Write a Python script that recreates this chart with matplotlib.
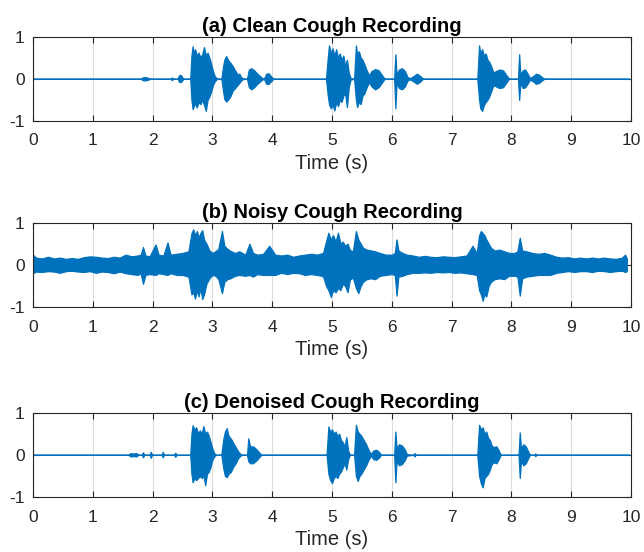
import matplotlib
matplotlib.use("Agg")
from matplotlib import pyplot as plt

plt.rcParams['font.family'] = ['Liberation Sans', 'DejaVu Sans']
plt.rcParams['axes.unicode_minus'] = False

# envelope key points (time in s, upper / lower amplitude)
clean_t = [0, 1.80, 1.83, 1.88, 1.93, 1.96, 2.30, 2.32, 2.35, 2.42, 2.44, 2.47, 2.50, 2.52,
           2.63, 2.65, 2.67, 2.69, 2.71, 2.74, 2.77, 2.80, 2.83, 2.86, 2.89, 2.92, 2.95, 2.98, 3.01, 3.04, 3.08,
           3.15, 3.18, 3.20, 3.23, 3.26, 3.30, 3.34, 3.38, 3.42, 3.45, 3.48, 3.52,
           3.58, 3.61, 3.65, 3.70, 3.75, 3.80, 3.84, 3.87, 3.90, 3.94, 3.98, 4.02,
           4.90, 4.93, 4.95, 4.98, 5.01, 5.04, 5.07, 5.10, 5.13, 5.16, 5.19, 5.22, 5.25, 5.28, 5.31,
           5.37, 5.40, 5.42, 5.45, 5.48, 5.51, 5.54, 5.58, 5.62, 5.66, 5.72, 5.78, 5.84, 5.88,
           6.04, 6.06, 6.08, 6.12, 6.17, 6.22, 6.26, 6.30, 6.36, 6.42, 6.48, 6.52,
           7.43, 7.46, 7.48, 7.51, 7.54, 7.57, 7.60, 7.63, 7.66, 7.70, 7.74, 7.80, 7.86, 7.92, 7.96,
           8.11, 8.13, 8.15, 8.19, 8.23, 8.27, 8.31, 8.36, 8.41, 8.46, 8.51, 8.55, 9.97]
clean_up = [0, 0, .03, .04, .02, 0, 0, .03, 0, 0, .08, .09, .03, 0,
            0, .55, .77, .60, .70, .55, .62, .50, .58, .75, .55, .62, .50, .35, .18, .06, 0,
            0, .30, .45, .54, .45, .38, .30, .20, .10, .12, .04, 0,
            0, .22, .25, .20, .12, .06, .01, .02, .12, .13, .06, 0,
            0, .50, .79, .60, .72, .55, .70, .50, .60, .45, .55, .30, .45, .15, .02,
            0, .79, .60, .65, .50, .45, .35, .20, .08, .18, .23, .20, .08, 0,
            0, .58, .10, .22, .25, .18, .05, .01, .06, .12, .06, 0,
            0, .79, .60, .70, .55, .60, .45, .40, .30, .15, .18, .22, .20, .08, 0,
            0, .58, .10, .20, .22, .12, .02, .06, .12, .10, .04, 0, 0]
clean_lo = [0, 0, -.03, -.04, -.02, 0, 0, -.03, 0, 0, -.07, -.08, -.03, 0,
            0, -.50, -.72, -.65, -.58, -.68, -.55, -.60, -.50, -.62, -.76, -.50, -.42, -.30, -.15, -.06, 0,
            0, -.30, -.48, -.54, -.50, -.42, -.28, -.22, -.15, -.10, -.04, 0,
            0, -.20, -.25, -.20, -.12, -.06, -.01, -.02, -.12, -.12, -.06, 0,
            0, -.40, -.60, -.70, -.62, -.75, -.55, -.65, -.50, -.55, -.40, -.35, -.67, -.20, -.02,
            0, -.50, -.67, -.55, -.60, -.40, -.35, -.20, -.08, -.18, -.25, -.20, -.08, 0,
            0, -.70, -.10, -.22, -.25, -.18, -.05, -.01, -.06, -.12, -.06, 0,
            0, -.50, -.70, -.76, -.62, -.55, -.50, -.42, -.30, -.15, -.18, -.22, -.20, -.08, 0,
            0, -.50, -.10, -.22, -.20, -.12, -.02, -.06, -.12, -.10, -.04, 0, 0]

noisy_t = [0.00, 0.05, 0.15, 0.25, 0.35, 0.45, 0.55, 0.65, 0.75, 0.85, 0.95, 1.05, 1.15, 1.25,
           1.35, 1.45, 1.55, 1.65, 1.75, 1.80, 1.84, 1.88, 1.95, 2.05, 2.10, 2.18, 2.25, 2.30,
           2.40, 2.50, 2.60, 2.65, 2.68, 2.71, 2.74, 2.77, 2.80, 2.83, 2.86, 2.90, 2.95, 3.00,
           3.05, 3.10, 3.16, 3.20, 3.25, 3.30, 3.38, 3.45, 3.55, 3.62, 3.68, 3.75, 3.85, 3.95,
           4.05, 4.15, 4.25, 4.35, 4.45, 4.55, 4.65, 4.75, 4.85, 4.90, 4.94, 4.98, 5.02, 5.06,
           5.10, 5.14, 5.18, 5.22, 5.26, 5.30, 5.35, 5.40, 5.44, 5.48, 5.52, 5.58, 5.65, 5.72,
           5.80, 5.90, 6.00, 6.05, 6.08, 6.11, 6.18, 6.25, 6.35, 6.45, 6.55, 6.65, 6.75, 6.85,
           6.95, 7.05, 7.15, 7.25, 7.35, 7.42, 7.46, 7.49, 7.52, 7.55, 7.58, 7.62, 7.66, 7.72,
           7.80, 7.88, 7.96, 8.05, 8.10, 8.14, 8.18, 8.25, 8.35, 8.45, 8.55, 8.65, 8.75, 8.85,
           8.95, 9.05, 9.15, 9.25, 9.35, 9.45, 9.55, 9.65, 9.75, 9.85, 9.90, 9.93]
noisy_up = [.24, .17, .15, .19, .15, .17, .14, .16, .14, .18, .20, .19, .17, .16,
            .19, .17, .24, .20, .22, .24, .42, .22, .20, .48, .24, .22, .53, .24,
            .26, .28, .32, .75, .84, .70, .80, .65, .75, .82, .60, .50, .34, .28,
            .32, .38, .80, .45, .38, .33, .28, .32, .24, .50, .28, .24, .26, .45,
            .24, .22, .24, .19, .22, .24, .26, .24, .28, .55, .76, .60, .70, .55,
            .76, .50, .55, .45, .50, .35, .32, .80, .60, .50, .40, .36, .34, .32,
            .28, .24, .24, .28, .60, .34, .28, .24, .22, .19, .21, .19, .18, .20,
            .19, .18, .20, .22, .45, .28, .70, .80, .75, .70, .60, .50, .40, .34,
            .36, .32, .28, .28, .32, .64, .34, .32, .28, .26, .28, .24, .19, .17,
            .18, .15, .17, .15, .17, .15, .17, .15, .14, .17, .24, .15]
noisy_lo = [-.20, -.16, -.17, -.15, -.16, -.19, -.15, -.14, -.16, -.17, -.15, -.19, -.16, -.17,
            -.20, -.16, -.20, -.22, -.24, -.20, -.45, -.24, -.22, -.24, -.20, -.22, -.24, -.20,
            -.24, -.24, -.28, -.70, -.65, -.80, -.60, -.75, -.55, -.81, -.70, -.45, -.32, -.24,
            -.26, -.34, -.67, -.40, -.34, -.32, -.26, -.24, -.26, -.24, -.28, -.22, -.24, -.24,
            -.24, -.19, -.22, -.19, -.20, -.24, -.22, -.24, -.27, -.50, -.60, -.76, -.60, -.65,
            -.55, -.60, -.45, -.50, -.65, -.35, -.30, -.55, -.67, -.50, -.40, -.34, -.32, -.34,
            -.26, -.24, -.22, -.24, -.73, -.28, -.26, -.22, -.19, -.19, -.18, -.19, -.17, -.18,
            -.17, -.19, -.18, -.20, -.22, -.24, -.60, -.70, -.85, -.70, -.75, -.50, -.40, -.34,
            -.32, -.34, -.26, -.26, -.28, -.73, -.32, -.28, -.26, -.24, -.24, -.24, -.19, -.17,
            -.15, -.17, -.15, -.15, -.17, -.14, -.15, -.17, -.15, -.14, -.17, -.15]

denoised_t = [0, 1.60, 1.63, 1.68, 1.73, 1.76, 1.82, 1.84, 1.86, 1.95, 1.97, 1.99, 2.15, 2.17, 2.19, 2.36, 2.38, 2.40,
              2.63, 2.65, 2.67, 2.70, 2.73, 2.76, 2.79, 2.82, 2.85, 2.88, 2.91, 2.94, 2.97, 3.00, 3.03, 3.06,
              3.15, 3.18, 3.21, 3.24, 3.27, 3.31, 3.35, 3.39, 3.43, 3.47, 3.50,
              3.58, 3.60, 3.63, 3.68, 3.73, 3.78, 3.82,
              4.91, 4.94, 4.97, 5.00, 5.03, 5.06, 5.09, 5.12, 5.15, 5.18, 5.21, 5.24, 5.27, 5.30,
              5.37, 5.40, 5.43, 5.46, 5.49, 5.53, 5.57, 5.61, 5.65, 5.69, 5.74, 5.79, 5.82,
              6.04, 6.06, 6.08, 6.12, 6.17, 6.22, 6.25, 6.36, 6.38, 6.40,
              7.43, 7.46, 7.49, 7.52, 7.55, 7.58, 7.61, 7.64, 7.67, 7.71, 7.75, 7.79, 7.82,
              8.12, 8.14, 8.16, 8.20, 8.24, 8.28, 8.31, 8.38, 8.40, 8.42, 9.97]
denoised_up = [0, 0, .04, .03, .04, 0, 0, .06, 0, 0, .07, 0, 0, .07, 0, 0, .05, 0,
               0, .50, .70, .60, .65, .50, .58, .50, .68, .50, .55, .45, .30, .15, .04, 0,
               0, .35, .55, .63, .45, .38, .28, .18, .08, .02, 0,
               0, .39, .20, .20, .14, .06, 0,
               0, .67, .55, .60, .50, .55, .45, .50, .35, .30, .20, .42, .10, 0,
               0, .71, .55, .50, .45, .35, .25, .12, .02, .10, .12, .06, 0,
               0, .55, .15, .25, .22, .12, .02, 0, .04, 0,
               0, .71, .60, .65, .50, .55, .40, .35, .22, .18, .20, .10, 0,
               0, .53, .15, .25, .20, .08, 0, 0, .03, 0, 0]
denoised_lo = [0, 0, -.04, -.03, -.04, 0, 0, -.06, 0, 0, -.07, 0, 0, -.06, 0, 0, -.05, 0,
               0, -.45, -.65, -.55, -.60, -.55, -.50, -.55, -.50, -.72, -.45, -.40, -.28, -.12, -.04, 0,
               0, -.30, -.50, -.53, -.45, -.40, -.28, -.20, -.08, -.02, 0,
               0, -.15, -.20, -.20, -.14, -.06, 0,
               0, -.45, -.60, -.67, -.55, -.50, -.55, -.45, -.40, -.30, -.20, -.35, -.10, 0,
               0, -.50, -.62, -.50, -.45, -.35, -.25, -.12, -.02, -.10, -.12, -.06, 0,
               0, -.65, -.15, -.25, -.22, -.12, -.02, 0, -.04, 0,
               0, -.50, -.68, -.77, -.55, -.50, -.45, -.35, -.22, -.18, -.20, -.10, 0,
               0, -.55, -.15, -.25, -.20, -.08, 0, 0, -.03, 0, 0]

titles = ['(a) Clean Cough Recording', '(b) Noisy Cough Recording', '(c) Denoised Cough Recording']
series = [(clean_t, clean_up, clean_lo), (noisy_t, noisy_up, noisy_lo),
          (denoised_t, denoised_up, denoised_lo)]

blue = '#0072BD'
fig = plt.figure(figsize=(6.44, 5.52), dpi=100)
bottoms = [0.7808, 0.4438, 0.0996]

for i in range(3):
    ax = fig.add_axes([0.0512, bottoms[i], 0.9286, 0.153])
    t, up, lo = series[i]
    ax.fill_between(t, lo, up, color=blue, edgecolor=blue, linewidth=0.9)
    ax.set_xlim(0, 10)
    ax.set_ylim(-1, 1)
    ax.set_xticks(range(0, 11))
    ax.set_yticks([-1, 0, 1])
    ax.grid(axis='x', color='#dcdcdc', linewidth=0.8)
    ax.set_axisbelow(True)
    ax.tick_params(direction='in', top=True, right=True, length=4, width=0.8,
                   color='#262626', labelsize=12.5, labelcolor='#262626')
    ax.tick_params(axis='x', pad=9)
    ax.tick_params(axis='y', pad=6)
    for s in ax.spines.values():
        s.set_color('#262626')
        s.set_linewidth(0.8)
    ax.set_title(titles[i], fontsize=14.5, fontweight='bold', pad=3)
    ax.set_xlabel('Time (s)', fontsize=14.5, color='#262626', labelpad=4)

fig.savefig('out.png', dpi=100)
